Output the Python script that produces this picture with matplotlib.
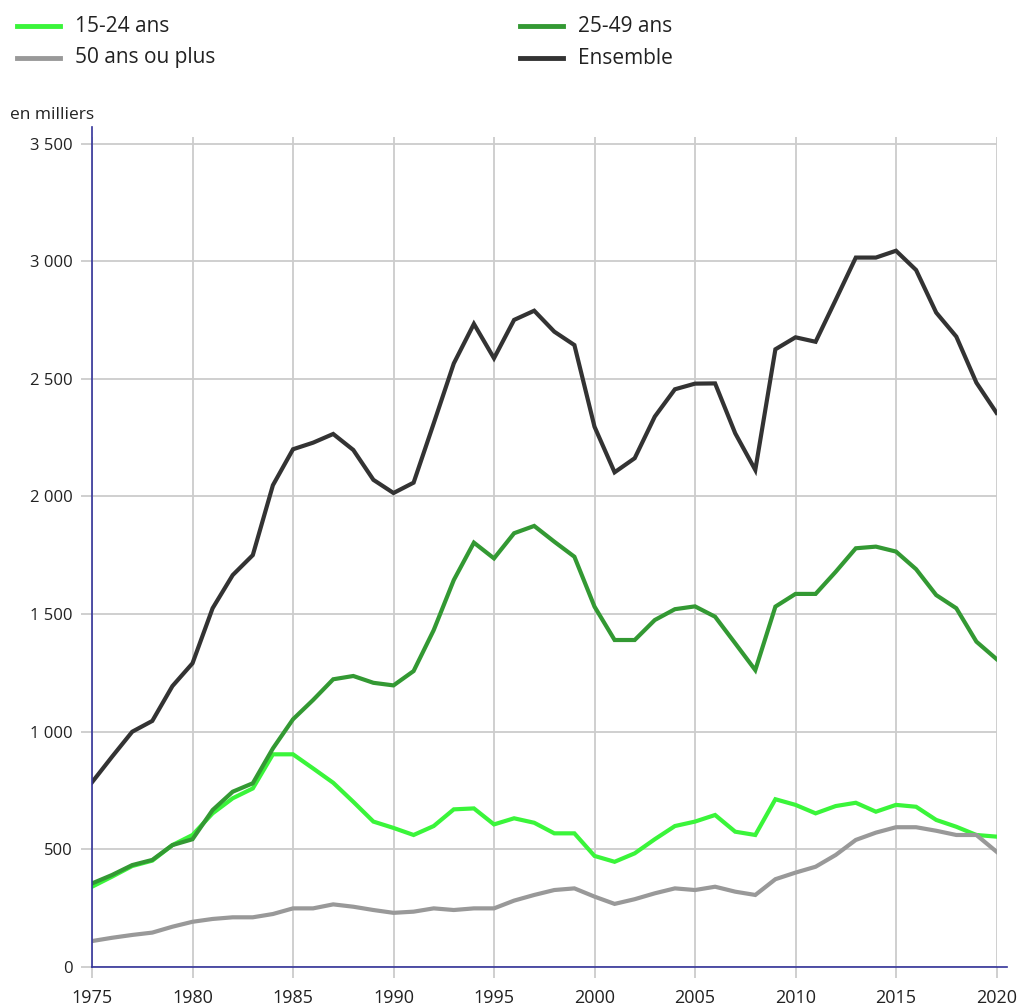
import matplotlib
matplotlib.use("Agg")
import matplotlib.pyplot as plt
from matplotlib.lines import Line2D
from matplotlib.ticker import FuncFormatter

plt.rcParams['font.family'] = ['Open Sans', 'DejaVu Sans']

years = list(range(1975, 2021))

# chômeurs, en milliers
jeunes = [340, 383, 428, 451, 517, 560, 652, 716, 758, 903,
          903, 843, 782, 701, 617, 590, 560, 598, 669, 673,
          605, 631, 612, 567, 567, 471, 446, 482, 542, 598,
          617, 645, 574, 560, 712, 688, 652, 683, 697, 659,
          688, 680, 624, 595, 560, 553]
adultes = [354, 390, 432, 454, 517, 542, 666, 744, 780, 928,
           1052, 1134, 1222, 1236, 1207, 1196, 1257, 1431, 1644, 1803,
           1736, 1843, 1874, 1807, 1743, 1531, 1389, 1389, 1474, 1520,
           1532, 1488, 1375, 1261, 1531, 1585, 1585, 1679, 1779, 1786,
           1765, 1690, 1580, 1524, 1382, 1308]
seniors = [109, 123, 135, 145, 170, 191, 203, 210, 210, 224,
           248, 248, 265, 255, 241, 229, 234, 248, 241, 248,
           248, 281, 305, 326, 333, 298, 267, 287, 312, 333,
           326, 340, 319, 305, 372, 400, 425, 475, 539, 570,
           593, 593, 578, 560, 560, 489]
ensemble = [784, 893, 999, 1045, 1193, 1290, 1524, 1665, 1750, 2047,
            2200, 2228, 2265, 2197, 2070, 2014, 2058, 2310, 2565, 2733,
            2587, 2750, 2789, 2700, 2643, 2296, 2102, 2162, 2339, 2455,
            2479, 2480, 2268, 2112, 2625, 2676, 2657, 2835, 3015, 3015,
            3044, 2962, 2781, 2679, 2483, 2355]

labels = ['15-24 ans', '25-49 ans', '50 ans ou plus', 'Ensemble']
colors = ['#3af53a', '#339933', '#999999', '#333333']
series = [jeunes, adultes, seniors, ensemble]

x_ticks = list(range(1975, 2021, 5))
y_ticks = list(range(0, 3501, 500))

fig = plt.figure(figsize=(10.19, 10.06), dpi=100)
W, H = 1019, 1006
ax = fig.add_axes([92 / W, 1 - 966.7 / H, (996.5 - 92) / W, (966.7 - 137) / H])

# drawing order: grey and bright green under the others
for i in [2, 0, 1, 3]:
    ax.plot(years, series[i], color=colors[i], lw=3.0, solid_joinstyle='miter',
            zorder=3 + i)

ax.set_xlim(1975, 2020)
ax.set_ylim(0, (966.7 - 137) / 0.2352)
ax.set_xticks(x_ticks)
ax.set_yticks(y_ticks)
ax.yaxis.set_major_formatter(FuncFormatter(lambda v, p: f"{int(v):,}".replace(",", " ")))
ax.grid(True, color='#cccccc', lw=1.3)
ax.set_axisbelow(True)
ax.tick_params(axis='both', color='#cccccc', width=1.3, length=8,
               labelcolor='#222222')
ax.tick_params(axis='y', pad=6, labelsize=12)
ax.tick_params(axis='x', pad=8, labelsize=13)

for s in ['top', 'right']:
    ax.spines[s].set_visible(False)
for s in ['left', 'bottom']:
    ax.spines[s].set_color('#333399')
    ax.spines[s].set_linewidth(1.2)
    ax.spines[s].set_zorder(10)
ax.spines['left'].set_bounds(0, (966.7 - 127) / 0.2352)
ax.spines['bottom'].set_bounds(1975, 2020.5)

fig.text(10 / W, 1 - 115 / H, 'en milliers', fontsize=12.5, va='center',
         ha='left', color='#222222')

# legend, two columns
leg_pos = [(17, 26), (520, 26), (17, 58), (520, 58)]
for (px, py), lab, col in zip(leg_pos, labels, colors):
    fig.add_artist(Line2D([px / W, (px + 43) / W], [1 - py / H, 1 - py / H],
                          color=col, lw=3.5, transform=fig.transFigure))
    fig.text((px + 58) / W, 1 - py / H, lab, fontsize=15, va='center',
             ha='left', color='#222222')

fig.savefig('out.png', dpi=100)
